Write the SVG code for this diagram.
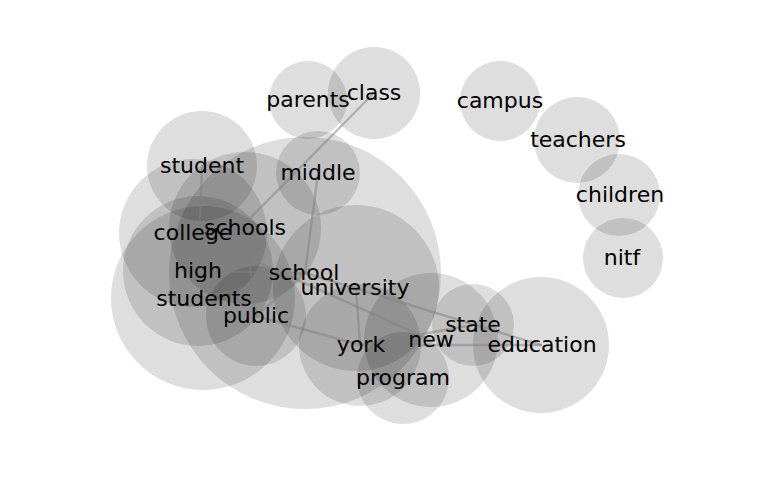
<svg xmlns="http://www.w3.org/2000/svg" width="768" height="500" viewBox="0 0 768 500">
<style>
.n circle{fill:#000;fill-opacity:0.13;stroke:none}
.n text{font-family:"DejaVu Sans",sans-serif;font-size:22px;fill:#000;text-anchor:middle}
#edges line{stroke:#808080;stroke-opacity:0.5;stroke-width:2.4;stroke-linecap:round}
</style>
<rect width="768" height="500" fill="#fff"/>
<g id="circles" class="n">
<circle cx="305" cy="273" r="136"/>
<circle cx="203" cy="298" r="92"/>
<circle cx="356" cy="288" r="83"/>
<circle cx="245" cy="228" r="76"/>
<circle cx="198" cy="271" r="75"/>
<circle cx="193" cy="233" r="74"/>
<circle cx="431" cy="340" r="67"/>
<circle cx="541" cy="345" r="68"/>
<circle cx="360" cy="345" r="61"/>
<circle cx="202" cy="166" r="55"/>
<circle cx="256" cy="316" r="50"/>
<circle cx="374" cy="93" r="46"/>
<circle cx="403" cy="378" r="46"/>
<circle cx="577" cy="140" r="43"/>
<circle cx="318" cy="173" r="42"/>
<circle cx="473" cy="325" r="41"/>
<circle cx="619" cy="195" r="41"/>
<circle cx="308" cy="100" r="39"/>
<circle cx="500" cy="101" r="40"/>
<circle cx="623" cy="258" r="40"/>
</g>
<g id="edges">
<line x1="374" y1="93" x2="198" y2="271"/>
<line x1="318" y1="173" x2="305" y2="273"/>
<line x1="202" y1="166" x2="198" y2="271"/>
<line x1="198" y1="271" x2="305" y2="273"/>
<line x1="203" y1="298" x2="305" y2="273"/>
<line x1="256" y1="316" x2="305" y2="273"/>
<line x1="245" y1="228" x2="256" y2="316"/>
<line x1="193" y1="233" x2="431" y2="340"/>
<line x1="305" y1="273" x2="541" y2="345"/>
<line x1="356" y1="288" x2="360" y2="345"/>
<line x1="256" y1="316" x2="360" y2="345"/>
<line x1="360" y1="345" x2="473" y2="325"/>
<line x1="360" y1="345" x2="541" y2="345"/>
</g>
<g class="n">
<g id="n-parents"><text x="308" y="107">parents</text></g>
<g id="n-class"><text x="374" y="100">class</text></g>
<g id="n-campus"><text x="500" y="108">campus</text></g>
<g id="n-teachers"><text x="578" y="147">teachers</text></g>
<g id="n-children"><text x="620" y="202">children</text></g>
<g id="n-nitf"><text x="622" y="265">nitf</text></g>
<g id="n-student"><text x="202" y="173">student</text></g>
<g id="n-middle"><text x="318" y="180">middle</text></g>
<g id="n-college"><text x="193" y="240">college</text></g>
<g id="n-schools"><text x="245" y="235">schools</text></g>
<g id="n-high"><text x="198" y="278">high</text></g>
<g id="n-school"><text x="304" y="280">school</text></g>
<g id="n-university"><text x="355" y="295">university</text></g>
<g id="n-students"><text x="204" y="306">students</text></g>
<g id="n-public"><text x="256" y="323">public</text></g>
<g id="n-state"><text x="473" y="332">state</text></g>
<g id="n-new"><text x="431" y="347">new</text></g>
<g id="n-education"><text x="542" y="352">education</text></g>
<g id="n-york"><text x="361" y="352">york</text></g>
<g id="n-program"><text x="403" y="385">program</text></g>
</g>
</svg>
